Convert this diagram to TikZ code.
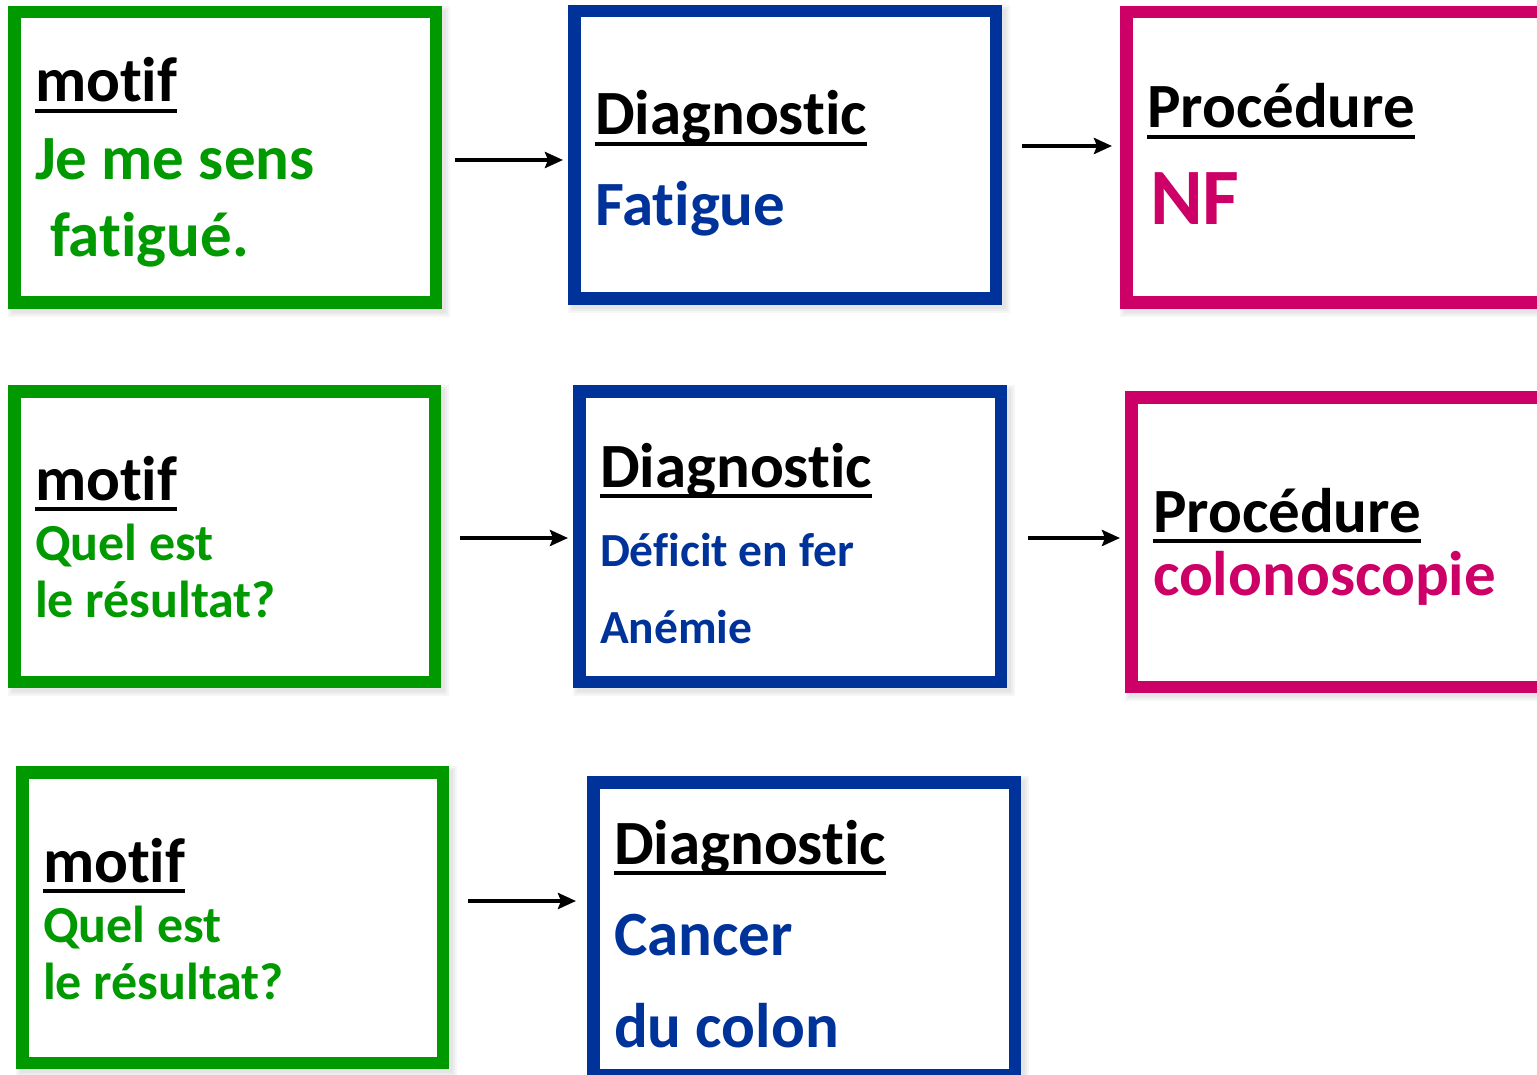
\documentclass[tikz,border=0pt]{standalone}
\usepackage{fontspec}
\setmainfont{Carlito}[RawFeature={-liga;-clig;-calt;-dlig;-rlig}]
\usetikzlibrary{arrows.meta,calc}

\definecolor{boxgreen}{RGB}{0,153,0}
\definecolor{boxblue}{RGB}{0,51,153}
\definecolor{boxpink}{RGB}{204,0,102}

% keeps t+i and f+i as separate glyphs
\newcommand\nolig{\kern0pt }

\tikzset{
  softshade/.style={
    preaction={draw=black, fill=black, opacity=0.035, line width=20pt,
               transform canvas={xshift=4pt,yshift=-4pt}},
    preaction={draw=black, fill=black, opacity=0.035, line width=16pt,
               transform canvas={xshift=4pt,yshift=-4pt}},
    preaction={draw=black, fill=black, opacity=0.035, line width=12pt,
               transform canvas={xshift=4pt,yshift=-4pt}}},
  frame/.style={draw=#1, line width=12.5pt, fill=white, inner sep=0pt, softshade},
  lbl/.style={anchor=base west, inner sep=0pt, outer sep=0pt},
  head/.style={lbl, text=black, font=\bfseries\fontsize{63}{63}\selectfont},
  body/.style={lbl, text=#1, font=\bfseries\fontsize{63}{63}\selectfont},
  mid/.style={lbl, text=#1, font=\bfseries\fontsize{52}{52}\selectfont},
  small/.style={lbl, text=#1, font=\bfseries\fontsize{47.5}{47.5}\selectfont},
  huge/.style={lbl, text=#1, font=\bfseries\fontsize{80}{80}\selectfont},
  uline/.style={draw=black, line width=4pt},
  arr/.style={draw=black, line width=4.5pt,
    -{Stealth[length=18pt,width=16pt,inset=3pt]}}
}

% framed box from its outer corners
\newcommand\cadre[6]{%
  \node[frame=#2, minimum width={#5-#3-12.5}, minimum height={#6-#4-12.5}]
    (#1) at ({(#3+#5)/2},{(#4+#6)/2}) {};}
% underline beneath a heading
\newcommand\souligne[1]{%
  \draw[uline] ([yshift=-9pt]#1.base west) -- ([yshift=-9pt]#1.base east);}
% horizontal connector at height y
\newcommand\fleche[5]{%
  \draw[arr, shorten <=#4pt, shorten >=#5pt] (#1.east |- 0,#3) -- (#2.west |- 0,#3);}

\begin{document}
\begin{tikzpicture}[x=1pt, y=-1pt]
  \useasboundingbox (0,0) rectangle (1537,1075);
  \clip (0,0) rectangle (1537,1075);

  % boxes
  \cadre{g1}{boxgreen}{8}{6}{442}{309}
  \cadre{b1}{boxblue}{568}{5}{1002}{305}
  \cadre{m1}{boxpink}{1120}{6}{1620}{309}

  \cadre{g2}{boxgreen}{8}{385}{441}{688}
  \cadre{b2}{boxblue}{573}{385}{1007}{688}
  \cadre{m2}{boxpink}{1125}{391}{1620}{693}

  \cadre{g3}{boxgreen}{16}{766}{449}{1069}
  \cadre{b3}{boxblue}{587}{776}{1021}{1081}

  % connectors
  \fleche{g1}{b1}{160}{13}{5}
  \fleche{b1}{m1}{146}{20}{8}
  \fleche{g2}{b2}{538}{19}{5}
  \fleche{b2}{m2}{538}{21}{5}
  \fleche{g3}{b3}{901}{19}{11}

  % row 1
  \node[head] (h11) at (35,102) {mot\nolig if};
  \node[body=boxgreen] (t111) at (35,180) {Je me sens};
  \node[body=boxgreen] (t112) at (50,257) {fat\nolig igué.};
  \node[head] (h12) at (595,135) {Diagnost\nolig ic};
  \node[body=boxblue] (t121) at (595,226) {Fat\nolig igue};
  \node[head] (h13) at (1147,128) {Procédure};
  \node[huge=boxpink] (t131) at (1150,225) {NF};
  \souligne{h11}\souligne{h12}\souligne{h13}

  % row 2
  \node[head] (h21) at (35,500) {mot\nolig if};
  \node[mid=boxgreen] (t211) at (35,560) {Quel est};
  \node[mid=boxgreen] (t212) at (35,617) {le résultat?};
  \node[head] (h22) at (600,487) {Diagnost\nolig ic};
  \node[small=boxblue] (t221) at (600,566) {Déf\nolig icit en fer};
  \node[small=boxblue] (t222) at (600,643) {Anémie};
  \node[head] (h23) at (1153,532) {Procédure};
  \node[body=boxpink] (t231) at (1153,595) {colonoscopie};
  \souligne{h21}\souligne{h22}\souligne{h23}

  % row 3
  \node[head] (h31) at (43,882) {mot\nolig if};
  \node[mid=boxgreen] (t311) at (43,942) {Quel est};
  \node[mid=boxgreen] (t312) at (43,999) {le résultat?};
  \node[head] (h32) at (614,864) {Diagnost\nolig ic};
  \node[body=boxblue] (t321) at (614,955) {Cancer};
  \node[body=boxblue] (t322) at (614,1047) {du colon};
  \souligne{h31}\souligne{h32}
\end{tikzpicture}
\end{document}
